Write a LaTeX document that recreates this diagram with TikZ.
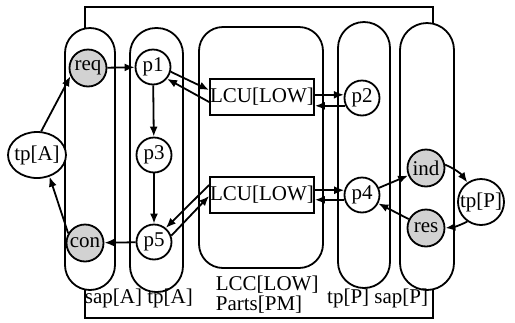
\documentclass[tikz,border=0pt]{standalone}
\usepackage{fontspec}
\setmainfont{Liberation Serif}
\usepackage{tikz}
\usetikzlibrary{shapes.geometric, arrows.meta}

\begin{document}
\begin{tikzpicture}[x=5pt, y=-5pt, >={Latex[length=5pt,width=4pt]}, line width=0.9pt,
	font=\fontsize{10.5}{10}\selectfont,
	tube/.style={draw=black, fill=white},
	pt/.style={circle, draw=black, fill=white, inner sep=0.5pt, minimum size=17.5pt},
	sp/.style={circle, draw=black, fill=gray!35, inner sep=0.5pt, minimum size=18.5pt},
	lcu/.style={rectangle, draw=black, fill=white, inner sep=0pt, minimum width=52pt, minimum height=18pt},
	lbl/.style={inner sep=0pt}]
				\useasboundingbox (0,0) rectangle (51.5,32.2);
				\draw (8.5,0.7) rectangle (43.3,31.8);
				\fill[tube, rounded corners=12.5pt] (6.5,2.8) rectangle (11.5,29.0);
				\fill[tube, rounded corners=13pt] (13.0,2.8) rectangle (18.3,29.2);
				\fill[tube, rounded corners=12pt] (19.9,2.7) rectangle (32.3,26.8);
				\fill[tube, rounded corners=13pt] (33.8,2.2) rectangle (39.0,28.8);
				\fill[tube, rounded corners=13.5pt] (40.0,2.3) rectangle (45.4,29.0);
				% nodes
				\node[sp] (req) at (8.8,6.8) {req};
				\node[sp] (con) at (8.5,24.3) {con};
				\node[pt] (p1) at (15.3,6.7) {p1};
				\node[pt] (p3) at (15.4,15.5) {p3};
				\node[pt] (p5) at (15.4,24.2) {p5};
				\node[ellipse, draw=black, fill=white, inner sep=-1.5pt, minimum width=29pt, minimum height=23pt] (tpA) at (3.7,15.5) {tp[A]};
				\node[lcu] (lcuA) at (26.2,9.7) {LCU[LOW]};
				\node[lcu] (lcuB) at (26.2,19.5) {LCU[LOW]};
				\node[pt] (p2) at (36.2,9.8) {p2};
				\node[pt] (p4) at (36.2,19.5) {p4};
				\node[sp] (ind) at (42.6,16.8) {ind};
				\node[sp] (res) at (42.6,22.8) {res};
				\node[circle, draw=black, fill=white, inner sep=0pt, minimum size=23pt] (tpP) at (48.1,20.2) {tp[P]};
				\node[lbl, anchor=west] (lsapA) at (8.4,29.8) {sap[A] tp[A]};
				\node[lbl, anchor=north west, align=left] (llcc) at (21.5,27.5) {LCC[LOW]\\Parts[PM]};
				\node[lbl, anchor=east] (lsapP) at (42.9,29.8) {tp[P] sap[P]};
				% arrows
				\draw[->] (tpA.80) -- (req.205);
				\draw[->] (req) -- (p1);
				\draw[->] (p1) -- (p3);\draw[->] (p3) -- (p5);
				\draw[->] (p5) -- (con);
				\draw[->] (con.150) -- (tpA.-60);
				\draw[->] (p1.-15) -- ([yshift=3.5pt]lcuA.west);\draw[->] ([yshift=-2.5pt]lcuA.west) -- (p1.-40);
				\draw[->] (lcuA.east |- p2.170) -- (p2.170);\draw[->] (p2.205) -- (lcuA.east |- p2.205);
				\draw[->] ([yshift=5pt]lcuB.west) -- (p5.50);\draw[->] (p5.20) -- ([yshift=-0.5pt]lcuB.west);
				\draw[->] (lcuB.east |- p4.165) -- (p4.165);\draw[->] (p4.195) -- (lcuB.east |- p4.195);
				\draw[->] (p4) -- (ind);
				\draw[->] (res) -- (p4);
				\draw[->] (ind.10) to[bend left=15] (tpP.125);
				\draw[->] (tpP.235) to[bend left=10] (res.east);
			\end{tikzpicture}
\end{document}
